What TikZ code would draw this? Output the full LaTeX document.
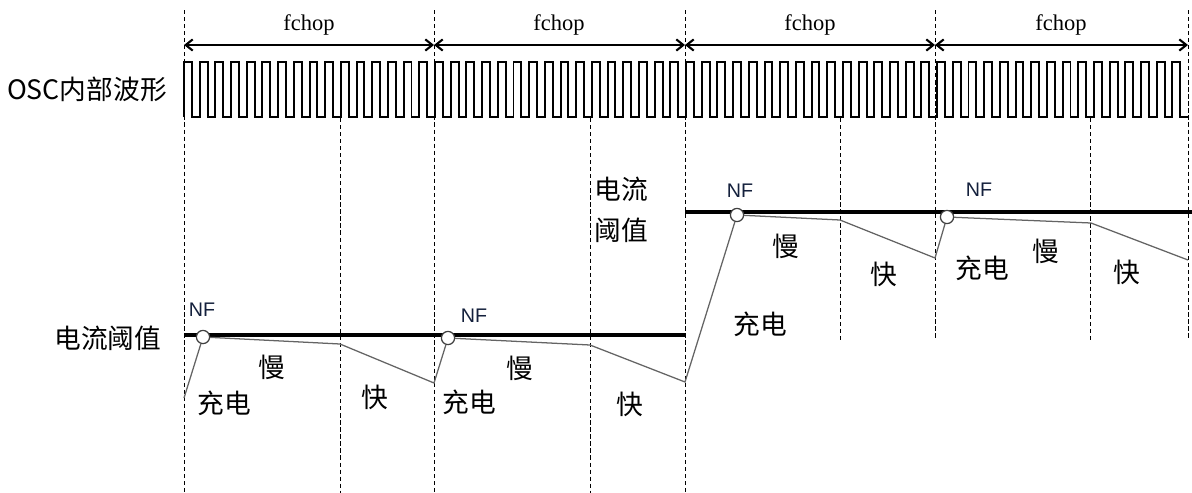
\documentclass[tikz,border=0pt]{standalone}
\usepackage{fontspec}
\newfontfamily\cjk{Noto Sans CJK SC}
\newfontfamily\nffont{Liberation Sans}
\newfontfamily\chopfont{Liberation Serif}
\usepackage{xcolor}
\usepackage{tikz}
\usetikzlibrary{arrows.meta,positioning}

\definecolor{nfblue}{RGB}{20,32,60}
\definecolor{rampgray}{RGB}{100,100,100}

\tikzset{
  guide/.style={draw=black, line width=0.6pt, dash pattern=on 3pt off 2pt},
  chop/.style={<->, >={Straight Barb[length=5pt,width=8pt]}, line width=1.5pt},
  wave/.style={line width=1.4pt, line join=miter},
  limit/.style={line width=3.5pt},
  ramp/.style={draw=rampgray, line width=0.9pt},
  nf/.style={circle, draw=black!75, fill=white, line width=0.9pt, minimum size=0.33cm, inner sep=0pt},
  lbl/.style={font=\cjk\fontsize{19}{23}\selectfont, inner sep=0pt},
  nflbl/.style={font=\nffont\fontsize{14}{16}\selectfont, text=nfblue, inner sep=0pt},
  per/.style={font=\chopfont\fontsize{16}{19}\selectfont, inner sep=0pt}
}

\begin{document}
\begin{tikzpicture}[x=0.025cm, y=-0.025cm]
    \useasboundingbox (0,0) rectangle (1192,493);

    % chop boundaries and guides
    \foreach \x in {184,434,685} \draw [guide] (\x,10) -- (\x,493);
    \foreach \x in {935,1188} \draw [guide] (\x,10) -- (\x,340);
    \foreach \x in {340,590} \draw [guide] (\x,118) -- (\x,493);
    \foreach \x in {840,1090} \draw [guide] (\x,118) -- (\x,340);

    \coordinate (b0) at (184,45);
    \coordinate (b1) at (434,45);
    \coordinate (b2) at (685,45);
    \coordinate (b3) at (935,45);
    \coordinate (b4) at (1188,45);
    \draw [chop] (b0) -- (b1);
    \draw [chop] (b1) -- (b2);
    \draw [chop] (b2) -- (b3);
    \draw [chop] (b3) -- (b4);
    \node (f1) [per] at (309,25) {fchop};
    \node (f2) [per] at (559,25) {fchop};
    \node (f3) [per] at (810,25) {fchop};
    \node (f4) [per] at (1061,25) {fchop};

    % oscillator
    \node (osc) [lbl] at (87,89) {OSC内部波形};
    \draw [wave] (184,117) \foreach \i in {1,...,64} { -- ++(0,-55) -- ++(7.84,0) -- ++(0,55) -- ++(7.85,0) };

    % current limit
    \node (lim) [lbl] at (108,338) {电流阈值};
    \node (lim2) [lbl, font=\cjk\fontsize{19}{29}\selectfont, align=left] at (621,210) {电流\\阈值};
    \coordinate (t0) at (184,335);
    \coordinate (t1) at (685,335);
    \coordinate (t2) at (685,212);
    \coordinate (t3) at (1192,212);
    \draw [limit] (t0) -- (t1);
    \draw [limit] (t2) -- (t3);

    % coil current
    \node (n1) [nf] at (203,337) {};
    \node (n2) [nf] at (448,338) {};
    \node (n3) [nf] at (737,215) {};
    \node (n4) [nf] at (947,217) {};
    \coordinate (s0) at (184,398);
    \coordinate (k1) at (340,344);
    \coordinate (v1) at (434,383);
    \coordinate (k2) at (590,345);
    \coordinate (v2) at (685,382);
    \coordinate (k3) at (840,220);
    \coordinate (v3) at (935,258);
    \coordinate (k4) at (1091,223);
    \coordinate (v4) at (1188,260);
    \draw [ramp] (s0) -- (n1);
    \draw [ramp] (n1) -- (k1) -- (v1) -- (n2);
    \draw [ramp] (n2) -- (k2) -- (v2) -- (n3);
    \draw [ramp] (n3) -- (k3) -- (v3) -- (n4);
    \draw [ramp] (n4) -- (k4) -- (v4);

    \node (nf1) [nflbl] at (202,310) {NF};
    \node (nf2) [nflbl] at (474,316) {NF};
    \node (nf3) [nflbl] at (740,191) {NF};
    \node (nf4) [nflbl] at (979,190) {NF};

    \node (c1) [lbl] at (224,403) {充电};
    \node (m1) [lbl] at (272,367) {慢};
    \node (q1) [lbl] at (375,397) {快};
    \node (c2) [lbl] at (469,402) {充电};
    \node (m2) [lbl] at (520,368) {慢};
    \node (q2) [lbl] at (630,404) {快};
    \node (c3) [lbl] at (760,324) {充电};
    \node (m3) [lbl] at (786,246) {慢};
    \node (q3) [lbl] at (884,274) {快};
    \node (c4) [lbl] at (982,268) {充电};
    \node (m4) [lbl] at (1046,251) {慢};
    \node (q4) [lbl] at (1127,272) {快};
\end{tikzpicture}
\end{document}
